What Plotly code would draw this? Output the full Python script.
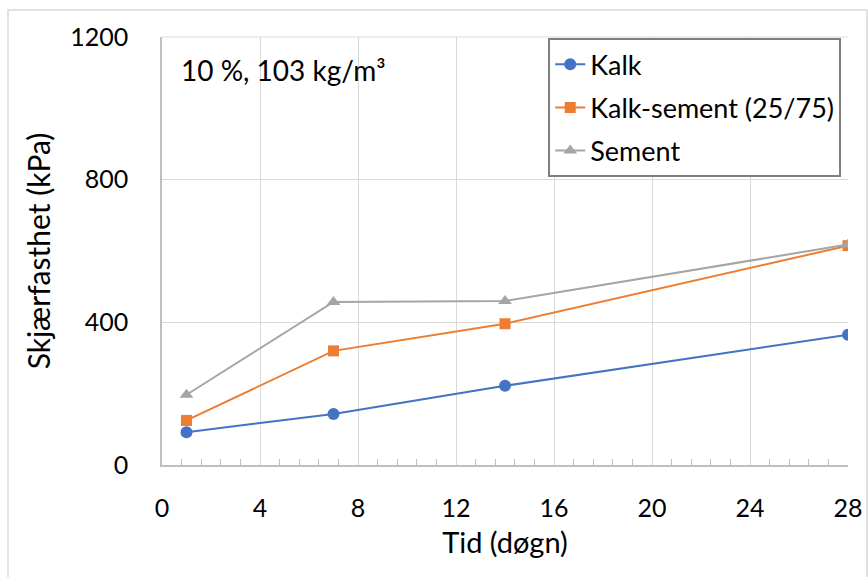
import plotly.graph_objects as go

# Curing time (days) and shear strength (kPa)
tid = [1, 7, 14, 28]
kalk = [92, 143, 222, 365]
kalk_sement = [125, 320, 396, 615]
sement = [197, 457, 460, 618]

series = [
    ("Kalk", kalk, "#4472C4", "circle", 12),
    ("Kalk-sement (25/75)", kalk_sement, "#ED7D31", "square", 11),
    ("Sement", sement, "#A5A5A5", "triangle-up", 12),
]

W, H = 868, 577
L, R, T, B = 162, 20, 37, 112

font_family = "Lato, 'Open Sans', sans-serif"

fig = go.Figure()
for i, (name, vals, color, symbol, size) in enumerate(series):
    fig.add_trace(go.Scatter(
        x=tid, y=vals, name=name, mode="lines+markers",
        line=dict(color=color, width=2),
        marker=dict(color=color, symbol=symbol, size=size),
        legendgroup=f"g{i}",
    ))

fig.update_layout(
    width=W, height=H,
    margin=dict(l=L, r=R, t=T, b=B, autoexpand=False),
    paper_bgcolor="white", plot_bgcolor="white",
    font=dict(family=font_family, size=25, color="#000000"),
    showlegend=True,
    legend=dict(
        x=0.563, y=0.997, xanchor="left", yanchor="top",
        bgcolor="white", bordercolor="#7F7F7F", borderwidth=2,
        font=dict(size=27), tracegroupgap=5, itemwidth=30,
    ),
    xaxis=dict(
        range=[0, 28], dtick=4, tick0=0,
        showgrid=True, gridcolor="#D9D9D9", gridwidth=1,
        showline=True, linecolor="#BFBFBF", linewidth=1.5,
        ticks="", ticklabelstandoff=20, ticklabeloverflow="allow",
        tickfont=dict(size=25),
        minor=dict(dtick=0.8, tick0=0, ticks="inside", ticklen=6,
                   tickcolor="#BFBFBF", showgrid=False),
        title=dict(text="Tid (døgn)", font=dict(size=29), standoff=12),
        zeroline=False, fixedrange=True,
    ),
    yaxis=dict(
        range=[0, 1200], dtick=400, tick0=0,
        showgrid=True, gridcolor="#D9D9D9", gridwidth=1,
        showline=True, linecolor="#BFBFBF", linewidth=1.5,
        ticks="", ticklabelstandoff=27,
        tickfont=dict(size=25),
        title=dict(text="Skjærfasthet (kPa)", font=dict(size=30), standoff=11),
        zeroline=False, fixedrange=True,
    ),
    shapes=[
        # outer chart frame
        dict(type="rect", xref="paper", yref="paper",
             x0=(8 - L) / (W - L - R), x1=(867 - L) / (W - L - R),
             y0=(H - B - 580) / (H - T - B), y1=(H - B - 10) / (H - T - B),
             line=dict(color="#D9D9D9", width=1.5), layer="below"),
        # top edge of plot area
        dict(type="line", xref="paper", yref="paper", x0=0, x1=1, y0=1, y1=1,
             line=dict(color="#D9D9D9", width=1)),
    ],
    annotations=[
        dict(text="10 %, 103 kg/m³", xref="paper", yref="paper",
             x=(179 - L) / (W - L - R), y=1 - (70 - T) / (H - T - B),
             xanchor="left", yanchor="middle", showarrow=False,
             font=dict(size=28)),
    ],
)

fig.write_html("out.html")
